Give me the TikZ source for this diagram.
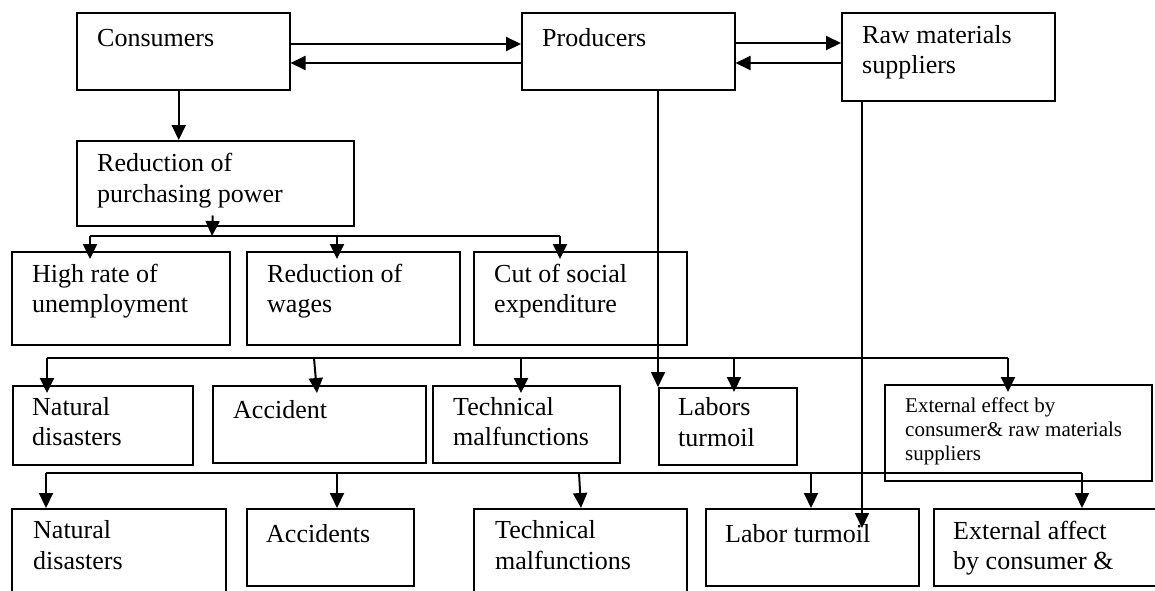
\documentclass[tikz,border=0pt]{standalone}
\usepackage{fontspec}
\setmainfont{Liberation Serif}
\usetikzlibrary{arrows.meta,calc}
\tikzset{
  box/.style={draw, line width=1.5pt, inner sep=0pt, anchor=north west},
  lbl/.style={anchor=north west, inner sep=0pt, align=left, font=\fontsize{26}{30.5}\selectfont, execute at begin node=\strut},
  slbl/.style={anchor=north west, inner sep=0pt, align=left, font=\fontsize{21}{24}\selectfont, execute at begin node=\strut},
  conn/.style={line width=2pt},
  arr/.style={line width=2pt, -{Triangle[length=15pt,width=14pt]}},
  arrin/.style={arr, shorten >=-8pt},
  longarr/.style={line width=1.7pt, -{Triangle[length=15pt,width=14pt]}},
}
\begin{document}
\begin{tikzpicture}[x=1pt,y=-1pt]
\useasboundingbox (0,0) rectangle (1155,590);
\fill[white] (0,0) rectangle (1155,590);
\clip (0,0) rectangle (1155,590);

% ---- boxes ----
\node[box, minimum width=213pt, minimum height=77pt] (cons) at (76,12) {};
\node[box, minimum width=213pt, minimum height=77pt] (prod) at (521,12) {};
\node[box, minimum width=213pt, minimum height=88pt] (raw) at (841,12) {};
\node[box, minimum width=277pt, minimum height=85pt] (red) at (76,140) {};
\node[box, minimum width=218pt, minimum height=93pt] (hr) at (11,251) {};
\node[box, minimum width=213pt, minimum height=93pt] (wag) at (246,251) {};
\node[box, minimum width=213pt, minimum height=93pt] (cut) at (473,251) {};
\node[box, minimum width=180pt, minimum height=79pt] (nat1) at (12,385) {};
\node[box, minimum width=213pt, minimum height=77pt] (acc1) at (212,385) {};
\node[box, minimum width=187pt, minimum height=77pt] (tec1) at (432,385) {};
\node[box, minimum width=138pt, minimum height=77pt] (lab1) at (658,387) {};
\node[box, minimum width=267pt, minimum height=96pt] (ext1) at (884,384) {};
\node[box, minimum width=214pt, minimum height=100pt] (nat2) at (11,508) {};
\node[box, minimum width=167pt, minimum height=77pt] (acc2) at (246,508) {};
\node[box, minimum width=213pt, minimum height=100pt] (tec2) at (473,508) {};
\node[box, minimum width=213pt, minimum height=77pt] (lab2) at (705,508) {};
\node[box, minimum width=230pt, minimum height=77pt] (ext2) at (933,508) {};

% ---- texts (strut height 21.35 / 16.8 above first baseline) ----
\node[lbl] (cons-t) at ($(cons.north west)+(21,13.2)$) {Consumers};
\node[lbl] (prod-t) at ($(prod.north west)+(21,13.2)$) {Producers};
\node[lbl] (raw-t) at ($(raw.north west)+(21,13.2)$) {Raw materials\\suppliers};
\node[lbl] (red-t) at ($(red.north west)+(21,13.2)$) {Reduction of\\purchasing power};
\node[lbl] (hr-t) at ($(hr.north west)+(21,12.7)$) {High rate of\\unemployment};
\node[lbl] (wag-t) at ($(wag.north west)+(21,12.7)$) {Reduction of\\wages};
\node[lbl] (cut-t) at ($(cut.north west)+(21,12.7)$) {Cut of social\\expenditure};
\node[lbl] (nat1-t) at ($(nat1.north west)+(20,12)$) {Natural\\disasters};
\node[lbl] (acc1-t) at ($(acc1.north west)+(21,12)$) {Accident};
\node[lbl] (tec1-t) at ($(tec1.north west)+(21,12)$) {Technical\\malfunctions};
\node[lbl] (lab1-t) at ($(lab1.north west)+(20,10.7)$) {Labors\\turmoil};
\node[slbl] (ext1-t) at ($(ext1.north west)+(21,13.2)$) {External effect by\\consumer\& raw materials\\suppliers};
\node[lbl] (nat2-t) at ($(nat2.north west)+(22,12.7)$) {Natural\\disasters};
\node[lbl] (acc2-t) at ($(acc2.north west)+(20,12.7)$) {Accidents};
\node[lbl] (tec2-t) at ($(tec2.north west)+(22,12.7)$) {Technical\\malfunctions};
\node[lbl] (lab2-t) at ($(lab2.north west)+(20,12.7)$) {Labor turmoil};
\node[lbl] (ext2-t) at ($(ext2.north west)+(20,12.7)$) {External affect\\by consumer \&};

% ---- top connectors ----
\coordinate (c1) at ($(cons.north east)+(0,32)$);
\draw[arr] (c1) -- (c1 -| prod.west);
\coordinate (c2) at ($(prod.north west)+(0,51)$);
\draw[arr] (c2) -- (c2 -| cons.east);
\coordinate (c3) at ($(prod.north east)+(0,31)$);
\draw[arr] (c3) -- (c3 -| raw.west);
\coordinate (c4) at ($(raw.north west)+(0,51)$);
\draw[arr] (c4) -- (c4 -| prod.east);

\coordinate (c5) at ($(cons.south)+(-4.5,0)$);
\draw[arr] (c5) -- (c5 |- red.north);

% ---- row 2 bus ----
\coordinate (r1) at ($(red.south)+(-2.5,-11)$);
\coordinate (b2l) at (90,236);
\coordinate (b2m) at (212,236);
\coordinate (b2w) at (337,236);
\coordinate (b2r) at (560,236);
\draw[arr] (r1) -- (b2m);
\draw[conn] (b2l) -- (b2r);
\draw[arrin] (b2l) -- (b2l |- hr.north);
\draw[arrin] (b2w) -- (b2w |- wag.north);
\draw[arrin] (b2r) -- (b2r |- cut.north);

% ---- row 3 bus ----
\coordinate (b3a) at (47,358);
\coordinate (b3b) at (314,358);
\coordinate (b3c) at (521,358);
\coordinate (b3d) at (734,358);
\coordinate (b3e) at (1008,358);
\coordinate (a1e) at ($(acc1.north west)+(105,8)$);
\draw[conn] (b3a) -- (b3e);
\draw[arrin] (b3a) -- (b3a |- nat1.north);
\draw[arr] (b3b) -- (a1e);
\draw[arrin] (b3c) -- (b3c |- tec1.north);
\draw[arr, shorten >=-5pt] (b3d) -- (b3d |- lab1.north);
\draw[arrin] (b3e) -- (b3e |- ext1.north);

% ---- row 4 bus ----
\coordinate (b4a) at (46,473);
\coordinate (b4b) at (337,473);
\coordinate (b4c) at (579,473);
\coordinate (b4d) at (811,473);
\coordinate (b4e) at (1082,473);
\coordinate (t2e) at ($(tec2.north west)+(108,0)$);
\draw[conn] (b4a) -- (b4e);
\draw[arr] (b4a) -- (b4a |- nat2.north);
\draw[arr] (b4b) -- (b4b |- acc2.north);
\draw[arr] (b4c) -- (t2e);
\draw[arr] (b4d) -- (b4d |- lab2.north);
\draw[arr] (b4e) -- (b4e |- ext2.north);

% ---- long vertical connectors ----
\draw[longarr] (prod.south -| lab1.north west) -- (lab1.north west);
\coordinate (rawend) at ($(lab2.north west)+(157,20)$);
\draw[longarr] (raw.south -| rawend) -- (rawend);
\end{tikzpicture}
\end{document}
